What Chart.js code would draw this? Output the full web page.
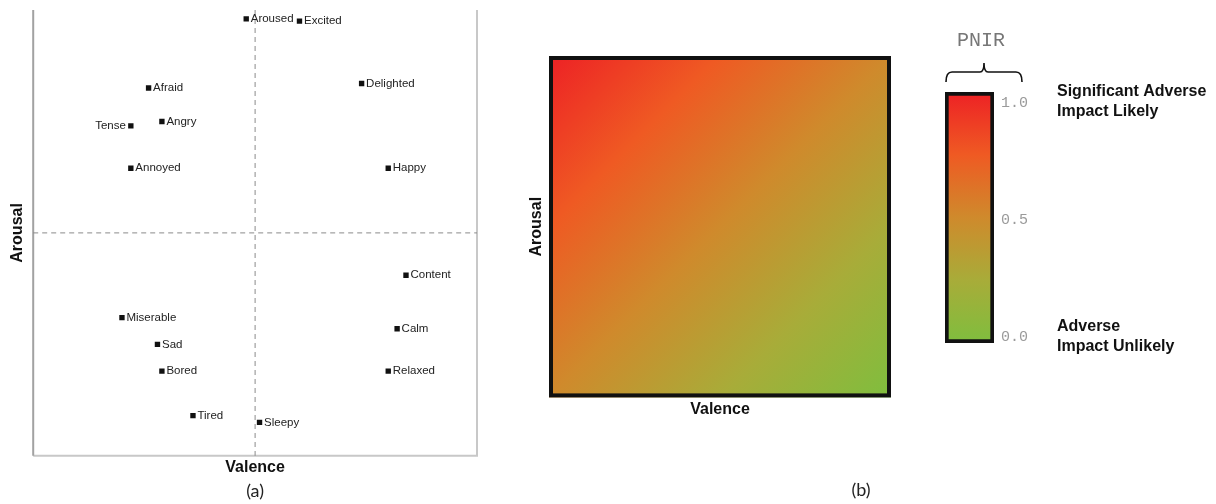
<!DOCTYPE html>
<html>
<head>
<meta charset="utf-8">
<script src="https://cdn.jsdelivr.net/npm/chart.js@4/dist/chart.umd.min.js"></script>
<style>
  body { margin: 0; background: #fff; }
  #wrap { position: relative; width: 1216px; height: 504px; }
  canvas { position: absolute; top: 0; }
</style>
</head>
<body>
<div id="wrap">
  <canvas id="circumplex" width="520" height="504" style="left:0"></canvas>
  <canvas id="heat" width="400" height="504" style="left:520px"></canvas>
  <canvas id="scale" width="296" height="504" style="left:920px"></canvas>
</div>
<script>
// (a) emotions in valence / arousal space
const emotions = ['Aroused', 'Excited', 'Delighted', 'Afraid', 'Tense', 'Angry', 'Annoyed', 'Happy',
  'Content', 'Miserable', 'Calm', 'Sad', 'Bored', 'Relaxed', 'Tired', 'Sleepy'];
const valence = [-0.04, 0.20, 0.48, -0.48, -0.56, -0.42, -0.56, 0.60, 0.68, -0.60, 0.64, -0.44, -0.42, 0.60, -0.28, 0.02];
const arousal = [0.96, 0.95, 0.67, 0.65, 0.48, 0.50, 0.29, 0.29, -0.19, -0.38, -0.43, -0.50, -0.62, -0.62, -0.82, -0.85];
const leftLabelled = ['Tense'];

// (b) PNIR colour scale
const pnirRange = [0, 1];
const barSpan = [-0.026, 1.047];   // the framed bar reaches a little past the 0.0 / 1.0 ticks
const pnirTicks = [0, 0.5, 1];
const pnirStops = [0, 0.25, 0.5, 0.75, 1];
const pnirColors = ['#7fbe3e', '#a8ac39', '#cf8a2c', '#ef5a23', '#ed2125'];
const impactLabels = [['Significant Adverse', 'Impact Likely'], ['Adverse', 'Impact Unlikely']];

Chart.defaults.font.family = 'Liberation Sans';
Chart.defaults.color = '#111';

const boldTitle = (text, size, padding) => ({
  display: true, text: text, color: '#111', padding: padding,
  font: { family: 'Liberation Sans', size: size, weight: 'bold' }
});
const bareAxis = (title) => ({
  min: -1, max: 1,
  ticks: { display: false },
  grid: { display: false, drawTicks: false },
  border: { display: false },
  title: title
});

function pnirGradient(ctx, y, x0, y0, x1, y1) {
  // colour stops are given in PNIR units, placed along the run from (x0,y0)=low to (x1,y1)=high
  const g = ctx.createLinearGradient(x0, y0, x1, y1);
  pnirStops.forEach((s, i) => g.addColorStop(s, pnirColors[i]));
  return g;
}

function caption(chart, text, x, y) {
  const ctx = chart.ctx;
  ctx.save();
  ctx.font = '18px Lato';
  ctx.fillStyle = '#222';
  ctx.textAlign = 'center';
  ctx.textBaseline = 'middle';
  ctx.fillText(text, x, y);
  ctx.restore();
}

const circumplexDecor = {
  id: 'circumplexDecor',
  beforeDatasetsDraw(chart) {
    const { ctx, chartArea: a, scales: { x, y } } = chart;
    ctx.save();
    ctx.lineWidth = 2;
    ctx.strokeStyle = '#c8c8c8';
    ctx.beginPath();
    ctx.moveTo(a.left, a.bottom);
    ctx.lineTo(a.right, a.bottom);
    ctx.lineTo(a.right, a.top);
    ctx.stroke();
    ctx.strokeStyle = '#a2a2a2';
    ctx.beginPath();
    ctx.moveTo(a.left, a.top);
    ctx.lineTo(a.left, a.bottom);
    ctx.stroke();

    const x0 = x.getPixelForValue(0), y0 = y.getPixelForValue(0);
    ctx.strokeStyle = '#8a8a8a';
    ctx.lineWidth = 1;
    ctx.setLineDash([5, 4]);
    ctx.beginPath();
    ctx.moveTo(x0, a.top);
    ctx.lineTo(x0, a.bottom);
    ctx.moveTo(a.left, y0);
    ctx.lineTo(a.right, y0);
    ctx.stroke();
    ctx.restore();
  },
  afterDatasetsDraw(chart) {
    const ctx = chart.ctx;
    const pts = chart.getDatasetMeta(0).data;
    ctx.save();
    ctx.font = '11.5px Liberation Sans';
    ctx.fillStyle = '#222';
    ctx.textBaseline = 'middle';
    emotions.forEach((name, i) => {
      const p = pts[i];
      if (leftLabelled.includes(name)) {
        ctx.textAlign = 'right';
        ctx.fillText(name, p.x - 5, p.y);
      } else {
        ctx.textAlign = 'left';
        ctx.fillText(name, p.x + 4.5, p.y);
      }
    });
    ctx.restore();
    caption(chart, '(a)', chart.scales.x.getPixelForValue(0), 491);
  }
};

new Chart(document.getElementById('circumplex'), {
  type: 'scatter',
  data: {
    datasets: [{
      data: emotions.map((e, i) => ({ x: valence[i], y: arousal[i] })),
      pointStyle: 'rect',
      pointRadius: 3.8,
      backgroundColor: '#111',
      borderWidth: 0
    }]
  },
  options: {
    responsive: false,
    animation: false,
    layout: { padding: { left: 5, right: 43, top: 10, bottom: 27 } },
    plugins: { legend: { display: false }, tooltip: { enabled: false } },
    scales: {
      x: bareAxis(boldTitle('Valence', 16, { top: 2, bottom: 0 })),
      y: bareAxis(boldTitle('Arousal', 16, { top: 3, bottom: 6 }))
    }
  },
  plugins: [circumplexDecor]
});

const heatFill = {
  id: 'heatFill',
  beforeDatasetsDraw(chart) {
    const { ctx, chartArea: a, scales: { x, y } } = chart;
    ctx.save();
    ctx.fillStyle = pnirGradient(ctx, y, x.getPixelForValue(1), y.getPixelForValue(-1),
      x.getPixelForValue(-1), y.getPixelForValue(1));
    ctx.fillRect(a.left, a.top, a.width, a.height);
    ctx.strokeStyle = '#111';
    ctx.lineWidth = 4;
    ctx.strokeRect(a.left + 2, a.top + 2, a.width - 4, a.height - 4);
    ctx.restore();
    caption(chart, '(b)', a.right - 30, 490);
  }
};

new Chart(document.getElementById('heat'), {
  type: 'scatter',
  data: { datasets: [{ data: [] }] },
  options: {
    responsive: false,
    animation: false,
    layout: { padding: { left: 4, right: 29, top: 56, bottom: 85 } },
    plugins: { legend: { display: false }, tooltip: { enabled: false } },
    scales: {
      x: bareAxis(boldTitle('Valence', 16, { top: 2.4, bottom: 0 })),
      y: bareAxis(boldTitle('Arousal', 16, { top: 3.4, bottom: 2.4 }))
    }
  },
  plugins: [heatFill]
});

const scaleDecor = {
  id: 'scaleDecor',
  afterDraw(chart) {
    const { ctx, chartArea: a, scales: { y } } = chart;
    ctx.save();
    ctx.fillStyle = '#777';
    ctx.font = '20px Liberation Mono';
    ctx.textAlign = 'center';
    ctx.textBaseline = 'middle';
    const mid = a.left + 39;
    ctx.fillText('PNIR', mid - 3, 41);

    // curly brace over the bar and its ticks
    const l = a.left + 1, r = a.left + 77, top = 72, bot = 82;
    ctx.strokeStyle = '#111';
    ctx.lineWidth = 1.6;
    ctx.beginPath();
    ctx.moveTo(l, bot);
    ctx.quadraticCurveTo(l, top, l + 6, top);
    ctx.lineTo(mid - 4, top);
    ctx.quadraticCurveTo(mid, top, mid, top - 9);
    ctx.quadraticCurveTo(mid, top, mid + 4, top);
    ctx.lineTo(r - 6, top);
    ctx.quadraticCurveTo(r, top, r, bot);
    ctx.stroke();

    ctx.fillStyle = '#111';
    ctx.font = 'bold 16px Liberation Sans';
    ctx.textAlign = 'left';
    const tx = a.right + 63;
    const yHi = y.getPixelForValue(pnirRange[1]);
    const yLo = y.getPixelForValue(pnirRange[0]);
    impactLabels[0].forEach((t, i) => ctx.fillText(t, tx, yHi - 11 + i * 20));
    impactLabels[1].forEach((t, i) => ctx.fillText(t, tx, yLo - 10 + i * 20));
    ctx.restore();
  }
};

new Chart(document.getElementById('scale'), {
  type: 'bar',
  data: {
    labels: ['PNIR'],
    datasets: [{
      data: [barSpan],
      backgroundColor: (c) => {
        const chart = c.chart;
        if (!chart.chartArea) return pnirColors[2];
        const y = chart.scales.y;
        return pnirGradient(chart.ctx, y, 0, y.getPixelForValue(barSpan[0]), 0, y.getPixelForValue(barSpan[1]));
      },
      borderColor: '#111',
      borderWidth: 4,
      borderSkipped: false,
      barPercentage: 1,
      categoryPercentage: 1
    }]
  },
  options: {
    responsive: false,
    animation: false,
    layout: { padding: { left: 25, right: 182, top: 92, bottom: 161 } },
    plugins: { legend: { display: false }, tooltip: { enabled: false } },
    scales: {
      x: { display: false },
      y: {
        position: 'right',
        min: barSpan[0],
        max: barSpan[1],
        afterBuildTicks: (s) => { s.ticks = pnirTicks.map(v => ({ value: v })); },
        afterFit: (s) => { s.width = 40; },
        ticks: {
          callback: (v) => v.toFixed(1),
          font: { family: 'Liberation Mono', size: 15 },
          color: '#9a9a9a',
          padding: 7
        },
        grid: { display: false, drawTicks: false },
        border: { display: false }
      }
    }
  },
  plugins: [scaleDecor]
});
</script>
</body>
</html>
